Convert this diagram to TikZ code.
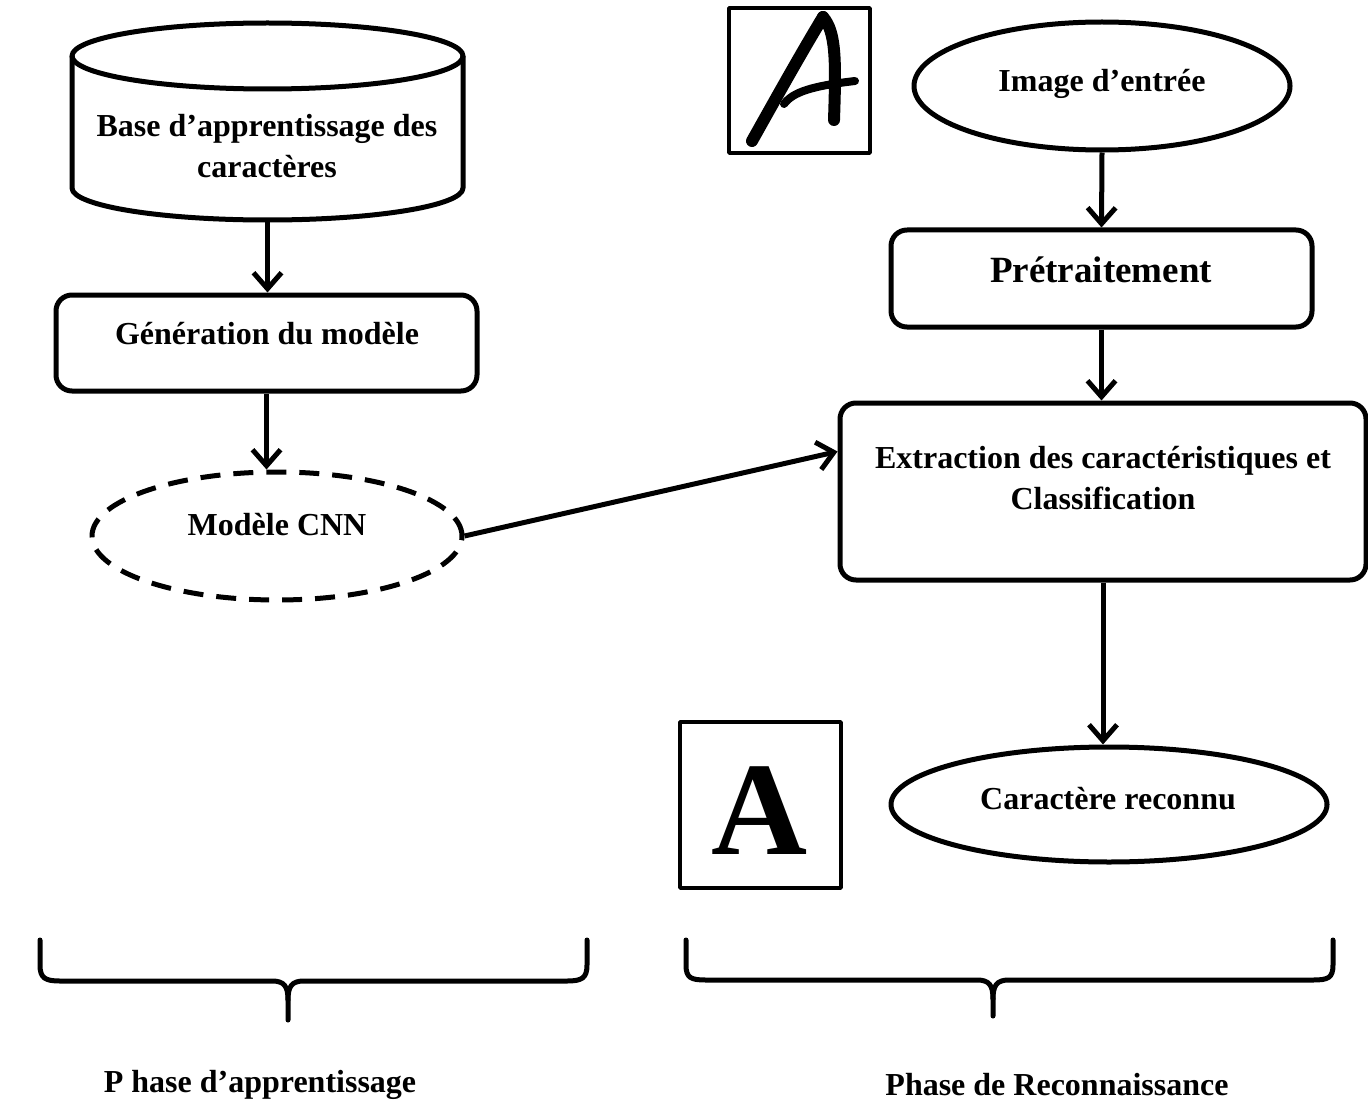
\documentclass[tikz,border=0pt]{standalone}
\usepackage{fontspec}
\setmainfont{Liberation Serif}
\usetikzlibrary{arrows.meta,shapes.geometric}
\begin{document}
\begin{tikzpicture}[x=1pt,y=1pt,
  line width=4.5pt, line join=round,
  lbl/.style={font=\bfseries\fontsize{32}{41}\selectfont, align=center, inner sep=0pt},
  flowbox/.style={draw, rounded corners=16pt, line width=5pt, inner sep=0pt},
  oval/.style={draw, ellipse, line width=5pt, inner sep=0pt},
  flow/.style={-{Straight Barb[length=16pt,width=28pt,line width=5pt]}, line width=5pt},
  frame/.style={draw, line width=3.5pt, inner sep=0pt},
  brace/.style={line width=5pt, line cap=round, line join=round}]
\useasboundingbox (0,0) rectangle (1368,-1102);

% learning side
\node[inner sep=0pt, minimum width=391pt, minimum height=197pt] (base) at (267.5,-121.5) {};
\draw[line width=5pt] (267.5,-56) ellipse [x radius=195.5, y radius=33];
\draw[line width=5pt] (72,-56) -- (72,-188) arc[start angle=180, end angle=360, x radius=195.5, y radius=32] -- (463,-56);
\node[lbl] (baset) at (267,-146) {Base d'apprentissage des\\caractères};

\node[flowbox, minimum width=421pt, minimum height=96pt] (gen) at (266.5,-343) {};
\node[lbl] (gent) at (267,-334) {Génération du modèle};

\node[oval, dash pattern=on 20pt off 13pt, minimum width=370pt, minimum height=128pt] (cnn) at (277,-536) {};
\node[lbl] (cnnt) at (277,-525) {Modèle CNN};

% recognition side
\node[oval, minimum width=376pt, minimum height=128pt] (img) at (1102,-86) {};
\node[lbl] (imgt) at (1102,-84) {Image d'entrée};

\node[flowbox, minimum width=421pt, minimum height=97pt] (pre) at (1101.5,-278.5) {};
\node[lbl, font=\bfseries\fontsize{37}{44}\selectfont] (pret) at (1101,-270) {Prétraitement};

\node[flowbox, minimum width=526pt, minimum height=177pt] (ext) at (1103,-491.5) {};
\node[lbl] (extt) at (1103,-478) {Extraction des caractéristiques et\\Classification};

\node[oval, minimum width=436pt, minimum height=115pt] (rec) at (1109,-804.5) {};
\node[lbl] (rect) at (1108,-799) {Caractère reconnu};

% sample characters: handwritten input and printed result
\node[frame, minimum width=141pt, minimum height=145pt] (hand) at (799.5,-80.5) {};
\draw[line width=12pt, line cap=round] (752,-141) .. controls (775,-100) and (800,-55) .. (823,-17);
\draw[line width=12pt, line cap=round] (823,-17) .. controls (836,-32) and (836,-60) .. (834,-120);
\draw[line width=8pt, line cap=round] (784,-104) .. controls (793,-92) and (812,-86) .. (855,-81);

\node[frame, minimum width=161pt, minimum height=166pt] (print) at (760.5,-805) {};
\node[font=\bfseries\fontsize{133}{133}\selectfont, inner sep=0pt] (printt) at (760,-811) {A};

% connectors
\draw[flow] (base.south) -- (base.south |- gen.north);
\draw[flow] (gen.south) -- (gen.south |- cnn.north);
\draw[flow] (cnn.east) -- ([yshift=40pt]ext.west);
\draw[flow] (img.south) -- (pre.north);
\draw[flow] (pre.south) -- (pre.south |- ext.north);
\draw[flow] (ext.south) -- (ext.south |- rec.north);

% phase braces
\draw[brace] (40,-940) -- (40,-965) .. controls (40,-978) and (45,-981) .. (60,-981) -- (272,-981)
  .. controls (284,-981) and (288,-986) .. (288,-1000) -- (288,-1020);
\draw[brace] (587,-940) -- (587,-965) .. controls (587,-978) and (582,-981) .. (567,-981) -- (304,-981)
  .. controls (292,-981) and (288,-986) .. (288,-1000);
\draw[brace] (686,-940) -- (686,-965) .. controls (686,-978) and (691,-980) .. (706,-980) -- (977,-980)
  .. controls (989,-980) and (993,-985) .. (993,-999) -- (993,-1016);
\draw[brace] (1333,-940) -- (1333,-965) .. controls (1333,-978) and (1328,-980) .. (1313,-980) -- (1009,-980)
  .. controls (997,-980) and (993,-985) .. (993,-999);

\node[lbl] (phase1) at (260,-1085) {P hase d'apprentissage};
\node[lbl] (phase2) at (1057,-1085) {Phase de Reconnaissance};
\end{tikzpicture}
\end{document}
